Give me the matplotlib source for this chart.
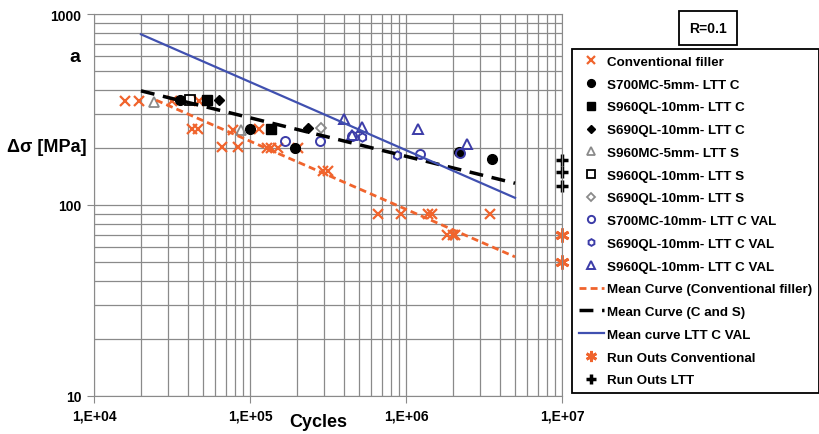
import matplotlib
matplotlib.use("Agg")
import matplotlib.pyplot as plt
from matplotlib.ticker import FixedLocator, FixedFormatter, NullFormatter

plt.rcParams["font.family"] = ["Liberation Sans", "DejaVu Sans"]
plt.rcParams["font.weight"] = "bold"

# conventional filler
conv_n = [1.58e4, 1.94e4, 3.15e4, 4.72e4, 4.23e4, 4.63e4, 6.57e4, 8.39e4, 7.79e4,
          1.14e5, 1.28e5, 1.37e5, 1.51e5, 2.03e5, 2.94e5, 3.14e5, 6.57e5, 9.23e5,
          1.39e6, 1.46e6, 3.45e6, 1.82e6, 2.01e6, 2.06e6]
conv_s = [351, 351, 351, 351, 250, 250, 201, 201, 248, 250, 200, 200, 200, 198,
          151, 151, 90, 90, 90, 90, 90, 70, 70, 70]

# LTT series
s700_5_c_n = [3.58e4, 1.0e5, 1.94e5, 2.19e6, 3.54e6]
s700_5_c_s = [354, 250, 198, 190, 174]
s960_10_c_n = [5.31e4, 1.37e5]
s960_10_c_s = [354, 250]
s690_10_c_n = [6.34e4, 2.36e5]
s690_10_c_s = [354, 252]
s960mc_5_s_n = [2.43e4, 8.82e4]
s960mc_5_s_s = [348, 248]
s960_10_s_n = [4.11e4]
s960_10_s_s = [354]
s690_10_s_n = [2.87e5]
s690_10_s_s = [252]
s700_val_n = [1.67e5, 2.80e5, 4.48e5, 1.23e6, 2.22e6]
s700_val_s = [217, 217, 229, 186, 187]
s690_val_n = [5.19e5, 8.7e5]
s690_val_s = [226, 183]
s960_val_n = [4.0e5, 5.19e5, 4.48e5, 1.20e6, 2.45e6]
s960_val_s = [282, 257, 232, 250, 208]

# mean curves (end points)
mean_conv_n = [2.5e4, 5e6]
mean_conv_s = [354, 53.5]
mean_cs_n = [2e4, 5e6]
mean_cs_s = [396, 130]
mean_val_n = [2e4, 5e6]
mean_val_s = [783, 109]

# run outs
ro_conv_n = [1e7, 1e7]
ro_conv_s = [70, 50]
ro_ltt_n = [1e7, 1e7, 1e7]
ro_ltt_s = [172, 149, 125]

x_ticks = [1e4, 1e5, 1e6, 1e7]
x_labels = ["1,E+04", "1,E+05", "1,E+06", "1,E+07"]
y_ticks = [10, 100, 1000]
y_labels = ["10", "100", "1000"]

orange = "#f0642d"
blue = "#3c3ca8"
gray = "#8a8a8a"

fig = plt.figure(figsize=(8.2, 4.35), dpi=100)
ax = fig.add_axes([94 / 820, 1 - 397 / 435, (562 - 94) / 820, (397 - 15) / 435])

ax.plot(conv_n, conv_s, ls="none", marker="x", color=orange, ms=6.5, mew=1.6,
        label="Conventional filler")
ax.plot(s700_5_c_n, s700_5_c_s, ls="none", marker="o", color="black", ms=7,
        label="S700MC-5mm- LTT C")
ax.plot(s960_10_c_n, s960_10_c_s, ls="none", marker="s", color="black", ms=7,
        label="S960QL-10mm- LTT C")
ax.plot(s690_10_c_n, s690_10_c_s, ls="none", marker="D", color="black", ms=5.5,
        label="S690QL-10mm- LTT C")
ax.plot(s960mc_5_s_n, s960mc_5_s_s, ls="none", marker="^", mfc="none", mec=gray,
        ms=7.5, mew=1.3, label="S960MC-5mm- LTT S")
ax.plot(s960_10_s_n, s960_10_s_s, ls="none", marker="s", mfc="none", mec="black",
        ms=7, mew=1.3, label="S960QL-10mm- LTT S")
ax.plot(s690_10_s_n, s690_10_s_s, ls="none", marker="D", mfc="none", mec=gray,
        ms=5.5, mew=1.3, label="S690QL-10mm- LTT S")
ax.plot(s700_val_n, s700_val_s, ls="none", marker="o", mfc="none", mec=blue,
        ms=6.5, mew=1.4, label="S700MC-10mm- LTT C VAL")
ax.plot(s690_val_n, s690_val_s, ls="none", marker="h", mfc="none", mec=blue,
        ms=6, mew=1.4, label="S690QL-10mm- LTT C VAL")
ax.plot(s960_val_n, s960_val_s, ls="none", marker="^", mfc="none", mec=blue,
        ms=6.5, mew=1.4, label="S960QL-10mm- LTT C VAL")

ax.plot(mean_conv_n, mean_conv_s, color=orange, lw=2, dashes=(2.5, 1.5),
        label="Mean Curve (Conventional filler)")
ax.plot(mean_cs_n, mean_cs_s, color="black", lw=2.5, dashes=(4, 2.5),
        label="Mean Curve (C and S)")
ax.plot(mean_val_n, mean_val_s, color="#4050b0", lw=1.6,
        label="Mean curve LTT C VAL")

ax.plot(ro_conv_n, ro_conv_s, ls="none", marker=(6, 2, 0), color=orange, ms=10,
        mew=2, label="Run Outs Conventional", clip_on=False)
ax.plot(ro_ltt_n, ro_ltt_s, ls="none", marker="+", color="black", ms=9, mew=2.5,
        label="Run Outs LTT", clip_on=False)

ax.set_xscale("log")
ax.set_yscale("log")
ax.set_xlim(1e4, 1e7)
ax.set_ylim(10, 1000)
ax.xaxis.set_major_locator(FixedLocator(x_ticks))
ax.xaxis.set_major_formatter(FixedFormatter(x_labels))
ax.yaxis.set_major_locator(FixedLocator(y_ticks))
ax.yaxis.set_major_formatter(FixedFormatter(y_labels))
ax.xaxis.set_minor_formatter(NullFormatter())
ax.yaxis.set_minor_formatter(NullFormatter())
ax.tick_params(which="major", length=5, color=gray, labelsize=10, pad=4)
ax.tick_params(which="minor", length=0)
ax.grid(True, which="both", color=gray, lw=0.9)
for sp in ax.spines.values():
    sp.set_color(gray)

fig.text(318 / 820, 1 - 423 / 435, "Cycles", ha="center", va="center",
         fontsize=13, fontweight="bold")
fig.text(47 / 820, 1 - 148 / 435, "\u0394\u03c3 [MPa]", ha="center", va="center",
         fontsize=13, fontweight="bold")
fig.text(75 / 820, 1 - 57 / 435, "a", ha="center", va="center",
         fontsize=14, fontweight="bold")
fig.text(708 / 820, 1 - 29 / 435, "R=0.1", ha="center", va="center",
         fontsize=10, fontweight="bold",
         bbox=dict(boxstyle="square,pad=0.75", fc="white", ec="black", lw=1.3))

leg = fig.legend(loc="upper left", bbox_to_anchor=(572 / 820, 1 - 50 / 435),
                 borderaxespad=0, fontsize=9.6, labelspacing=0.78,
                 handlelength=1.9, handletextpad=0.25, borderpad=0.5,
                 fancybox=False, framealpha=1, markerscale=0.8)
leg.get_frame().set_edgecolor("black")
leg.get_frame().set_linewidth(1.3)

fig.savefig("out.png", dpi=100)
